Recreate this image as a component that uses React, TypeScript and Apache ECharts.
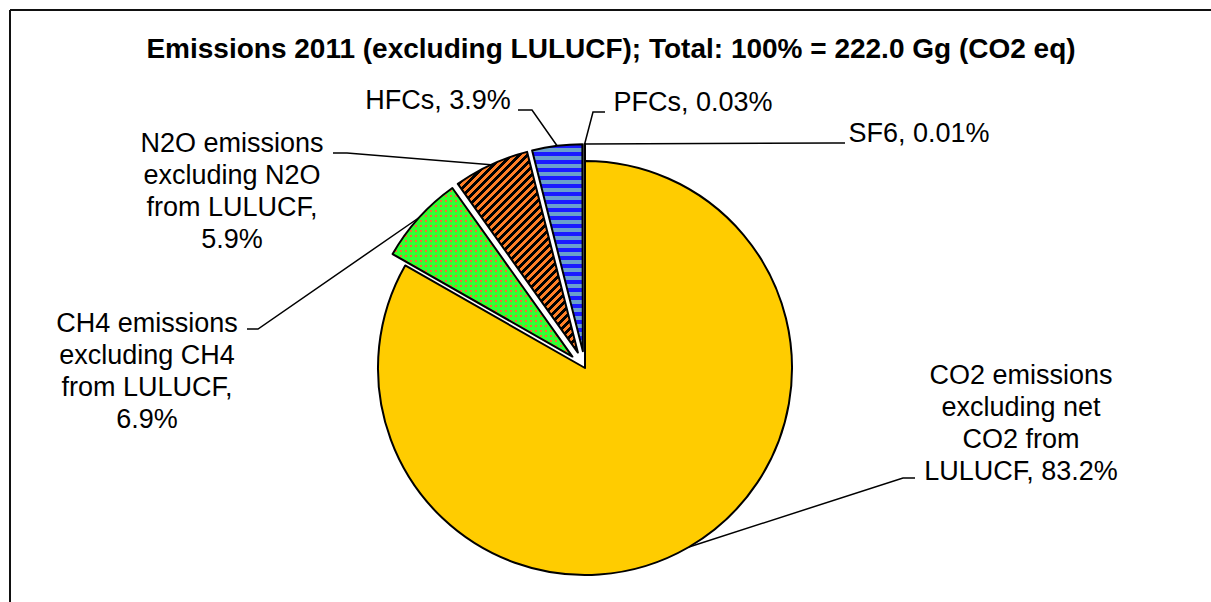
import React, { useEffect, useRef } from "react";
import * as echarts from "echarts";

const titleText = "Emissions 2011 (excluding LULUCF); Total: 100% = 222.0 Gg (CO2 eq)";
const categories = [
  "CO2 emissions excluding net CO2 from LULUCF",
  "CH4 emissions excluding CH4 from LULUCF",
  "N2O emissions excluding N2O from LULUCF",
  "HFCs",
  "PFCs",
  "SF6",
];
const shares = [83.2, 6.9, 5.9, 3.9, 0.03, 0.01];
const labelFormats = [
  "CO2 emissions\nexcluding net\nCO2 from\nLULUCF, {v}%",
  "CH4 emissions\nexcluding CH4\nfrom LULUCF,\n{v}%",
  "N2O emissions\nexcluding N2O\nfrom LULUCF,\n{v}%",
  "HFCs, {v}%",
  "PFCs, {v}%",
  "SF6, {v}%",
];

// styling / layout (not data)
const PIE_CX = 585;
const PIE_CY = 368;
const PIE_R = 207;
const explode = [0, 17, 17, 17, 17, 17];
const labelPlacement = [
  { x: 1021, y: 423, kink: [903, 478], end: [915, 478] },
  { x: 147, y: 371, kink: [258, 329], end: [247, 329] },
  { x: 232, y: 191, kink: [347, 153], end: [333, 153] },
  { x: 438, y: 100, kink: [532, 110], end: [518, 110] },
  { x: 693, y: 102, kink: [593, 112], end: [605, 112] },
  { x: 919, y: 133, kink: [833, 143], end: [845, 143] },
];
const FONT = "'Liberation Sans', Arial, sans-serif";

function makePattern(w: number, h: number, fn: (x: number, y: number) => string) {
  const c = document.createElement("canvas");
  c.width = w;
  c.height = h;
  const ctx = c.getContext("2d")!;
  for (let y = 0; y < h; y++) {
    for (let x = 0; x < w; x++) {
      ctx.fillStyle = fn(x, y);
      ctx.fillRect(x, y, 1, 1);
    }
  }
  return { image: c, repeat: "repeat", imageWidth: w, imageHeight: h } as any;
}

export default function App() {
  const ref = useRef<HTMLDivElement>(null);
  useEffect(() => {
    if (!ref.current) return;
    const chart = echarts.init(ref.current, null, { renderer: "svg" });

    const ch4Fill = makePattern(5, 5, (x, y) => (x < 2 && y < 2 ? "#ff6633" : "#33ff33"));
    const n2oFill = makePattern(8, 8, (x, y) => ((x + y) % 8 < 4 ? "#000000" : "#ff7f27"));
    const hfcFill = makePattern(8, 8, (x, y) => (y < 4 ? "#1a1aff" : "#6a9fcc"));
    const fills: any[] = ["#ffcc00", ch4Fill, n2oFill, hfcFill, "#993366", "#ccffff"];

    const total = shares.reduce((a, b) => a + b, 0);
    const mids: number[] = [];
    let cum = 0;
    shares.forEach((v) => {
      mids.push(((cum + v / 2) / total) * Math.PI * 2);
      cum += v;
    });
    const centers = mids.map((t, i) => [
      PIE_CX + explode[i] * Math.sin(t),
      PIE_CY - explode[i] * Math.cos(t),
    ]);
    const attach = mids.map((t, i) => [
      centers[i][0] + PIE_R * Math.sin(t),
      centers[i][1] - PIE_R * Math.cos(t),
    ]);

    const series = shares.map((_, i) => ({
      type: "pie",
      center: centers[i],
      radius: PIE_R,
      startAngle: 90,
      clockwise: true,
      silent: true,
      avoidLabelOverlap: false,
      minAngle: 0,
      emphasis: { disabled: true },
      label: {
        show: true,
        position: "outside",
        color: "#000",
        fontFamily: FONT,
        fontSize: 27,
        lineHeight: 32,
        align: "center",
        formatter: (p: any) => labelFormats[p.dataIndex].replace("{v}", String(shares[p.dataIndex])),
      },
      labelLine: { show: true, smooth: false, lineStyle: { color: "#000", width: 1.5 } },
      labelLayout: (params: any) => {
        const lp = labelPlacement[params.dataIndex];
        return {
          x: lp.x,
          y: lp.y,
          align: "center",
          verticalAlign: "middle",
          labelLinePoints: [attach[params.dataIndex], lp.kink, lp.end],
        };
      },
      data: shares.map((v, j) => ({
        value: v,
        name: categories[j],
        itemStyle:
          j === i
            ? { color: fills[j], borderColor: "#000", borderWidth: 2 }
            : { color: "rgba(0,0,0,0)", borderWidth: 0 },
        label: { show: j === i },
        labelLine: { show: j === i },
      })),
    }));

    chart.setOption({
      animation: false,
      backgroundColor: "#ffffff",
      graphic: [
        { type: "line", shape: { x1: 10, y1: 10, x2: 10, y2: 602 }, style: { stroke: "#111", lineWidth: 2 } },
        { type: "line", shape: { x1: 10, y1: 10, x2: 1211, y2: 10 }, style: { stroke: "#111", lineWidth: 2 } },
        {
          type: "text",
          x: 611,
          y: 48,
          style: {
            text: titleText,
            fontFamily: FONT,
            fontSize: 28,
            fontWeight: "bold",
            fill: "#000",
            textAlign: "center",
            textVerticalAlign: "middle",
          },
        },
      ],
      series,
    });
    return () => chart.dispose();
  }, []);
  return (
    <div
      ref={ref}
      style={{ position: "absolute", left: 0, top: 0, width: 1211, height: 602 }}
    />
  );
}
